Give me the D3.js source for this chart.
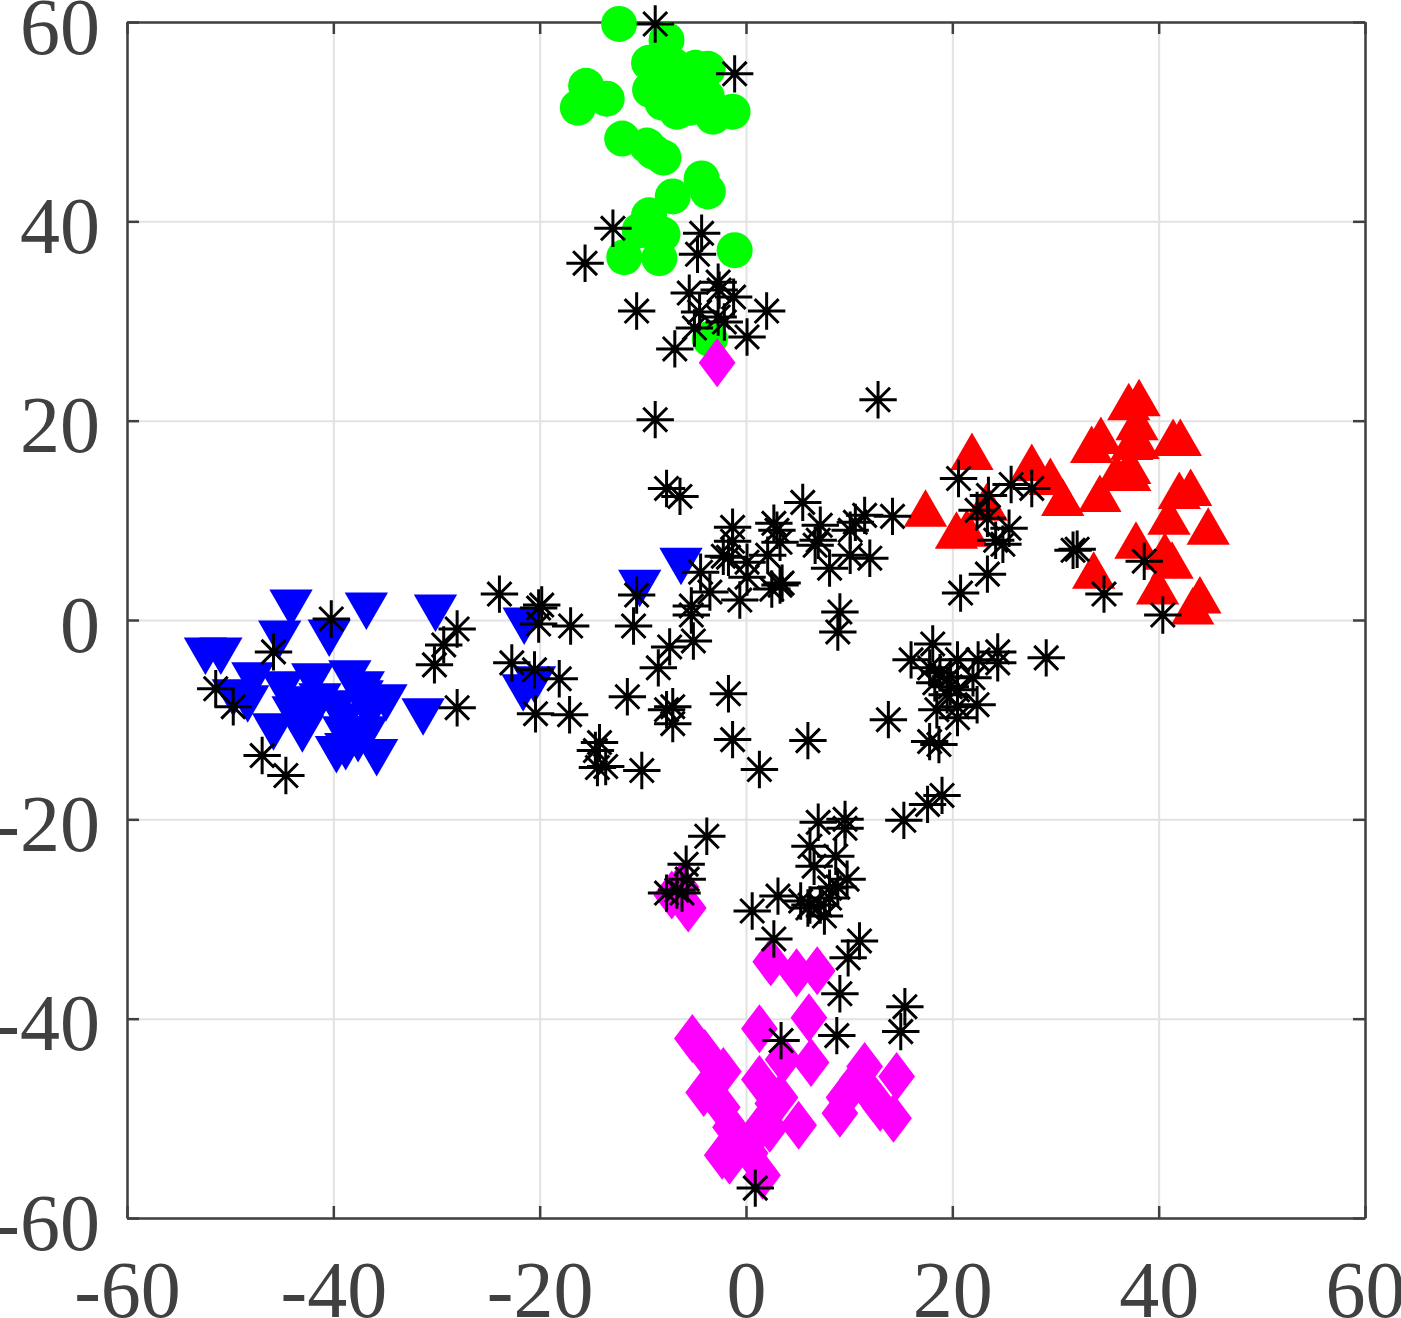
<!DOCTYPE html>
<html>
<head>
<meta charset="utf-8">
<script src="https://cdnjs.cloudflare.com/ajax/libs/d3/7.8.5/d3.min.js"></script>
<style>
  html, body { margin: 0; padding: 0; background: #fff; }
  svg { display: block; overflow: hidden; }
</style>
</head>
<body>
<svg id="chart" width="1401" height="1318"></svg>
<script>
const xTicks = [-60, -40, -20, 0, 20, 40, 60];
const yTicks = [-60, -40, -20, 0, 20, 40, 60];

// values
const redPoints = [
  [21.9,16.3],[17.4,10.6],[20.4,8.4],[21.4,8.6],[23.3,11.2],[27.7,15.2],[29.5,13.8],[30.7,11.7],
  [34.3,12.1],[34.4,17.9],[33.5,17],[37.1,21.3],[38.1,21.7],[37.9,19.3],[38,17.4],[37.4,17.3],
  [37.2,14.9],[37.2,14.2],[35.9,14.2],[41.4,17.7],[42.1,17.7],[42,12.4],[43.1,12.7],[41,9.8],
  [44.8,8.8],[37.8,7.4],[40.6,6.3],[41.3,5.4],[33.7,4.4],[39.9,2.8],[44,1.9],[43.3,0.8]
];
const greenPoints = [
  [-12.3,59.8],[-7.7,58.2],[-9.4,55.9],[-7.1,55.7],[-4.9,55.4],[-3.7,55.3],[-9.3,53.2],[-15.5,53.6],
  [-13.5,52.3],[-16.3,51.4],[-8.1,51.9],[-6.7,51],[-5.4,51.4],[-3.2,50.5],[-1.3,51],[-7,54],
  [-5.5,53.5],[-4.5,53],[-6.5,52.5],[-3.8,52.5],[-12,48.3],[-9.6,47.6],[-8,46.4],[-9,47],
  [-4.3,44.3],[-3.7,43],[-7.1,42.5],[-9.4,40.6],[-10.3,39.1],[-8.1,38.7],[-9.3,39.1],[-11.8,36.4],
  [-8.4,36.3],[-1.1,37.1],[-3.5,28.2]
];
const bluePoints = [
  [-44.1,1.8],[-45.2,-1.3],[-40.4,-1.2],[-36.8,1.5],[-30.1,1.3],[-52.4,-3],[-50.9,-3],[-47.8,-5.5],
  [-49.7,-7.2],[-48.3,-7.8],[-45.8,-10.6],[-44.9,-6.4],[-42,-5.6],[-43,-10.8],[-43.9,-8.9],[-41.3,-7.6],
  [-42.3,-9.4],[-38.4,-5.3],[-37.1,-6.4],[-37.2,-7.3],[-34.9,-7.7],[-36.5,-8.9],[-39,-9.6],[-31.3,-9.1],
  [-39.7,-12.9],[-38.8,-12.6],[-37.6,-11.8],[-35.8,-13.2],[-39,-10.9],[-36.8,-10.9],[-39.7,-8.3],[-43,-7.9],
  [-6.3,6],[-10.3,3.8],[-21.5,0],[-21.6,-6.7],[-20.5,-5.9]
];
const magentaPoints = [
  [-2.8,25.8],[-5.6,-28.9],[-6.3,-26.8],[-7.2,-27.6],[2.4,-34.3],[4.9,-35.4],[6.9,-35.2],[6.1,-39.9],
  [1.3,-41],[-5.2,-42],[-4,-43.5],[-2.2,-45.3],[-4.1,-47.4],[3.6,-44.1],[6.3,-44.4],[1.3,-46.1],
  [2.6,-48.5],[3.3,-47.9],[5.1,-50.7],[2.3,-51],[-2.3,-48.9],[-1.5,-50.9],[-2.3,-53.7],[-1.6,-54.2],
  [-0.6,-52.2],[1.6,-55.7],[0.4,-53.5],[1.4,-50.9],[11.5,-44.8],[14.6,-45.8],[10.8,-46.1],[9.5,-47.9],
  [9.1,-49.5],[12.3,-47.9],[14.3,-50],[13,-48.9]
];
const blackPoints = [
  [-8.8,59.8],[-1.1,54.8],[-12.9,39.3],[-15.6,35.8],[-4.3,38.8],[-4.7,36.7],[-2.7,33.9],[-5.5,32.8],
  [-2.6,33.1],[-1.2,32.4],[-4.5,30.9],[-10.6,31],[2,31],[-2.1,29.9],[-2.7,30.4],[-5,29.3],
  [0.1,28.4],[-6.9,27.2],[12.8,22.1],[-8.8,20.1],[-7.7,13.2],[-6.4,12.4],
  [-23.9,2.6],[-19.8,1.5],[-20.1,1.2],[-20.1,-0.4],[-17,-0.6],[-10.6,2.5],[-10.9,-0.6],[5.5,11.8],
  [-1.3,9.3],[-1.3,7.9],[2.7,9.7],[3,9],[3.3,7.8],[-2.2,6.4],[2.1,6.5],[0.1,5.8],[-1.7,6.3],[0.1,4.3],
  [6.7,7.5],[-4.4,4.8],[-3.5,2.8],[-0.6,2],[2.5,3.1],[3.5,3.7],[-5.3,1.4],[-5.3,0.5],[-5.1,-2.1],
  [-7.4,-2.7],[-8.5,-4.8],[-11.5,-7.7],[-1.7,-7.4],[-22.7,-4.3],[-20.5,-5],[-18.1,-5.9],[-20.4,-9.4],
  [-17.1,-9.5],[-7.1,-8.7],[-7.7,-9],[-7.1,-10.4],[-14.2,-12.3],[-14.6,-13.1],[-14.4,-14.8],[-13.6,-14.7],
  [-10.1,-15.1],[-1.3,-12],[1.3,-15],[6,-12.1],
  [9.1,0.8],[8.9,-1.2],[8.1,5.2],[12,6.2],[10.1,6.5],[7,8],[7.2,9.5],[10.6,9.8],[10.1,9],[11.5,10.5],
  [14.2,10.4],[3.3,3.5],
  [18.1,-2.4],[16,-4],[13.8,-10],[24.4,-3.2],[24.4,-4.3],[22.5,-4],[20.5,-4],[29.1,-3.8],[17.8,-4.8],
  [18.8,-5.3],[22,-5.8],[18.3,-6.3],[19.8,-5.7],[19.8,-6.7],[20.5,-7],[19.5,-7.5],[22.4,-8.5],[18.5,-9],
  [20.5,-9.8],[20.5,-8.7],[17.8,-12.2],[18.7,-12.5],[19,-17.6],[17.6,-18.5],[15.3,-20.1],
  [-3.8,-21.7],[-5.8,-24.5],[-5.7,-26],[-6.2,-27.4],[-7.7,-27.4],[-6.7,-27.1],[7,-20.3],[9.6,-20],
  [9.6,-20.9],[6.2,-22.7],[8.7,-23.7],[6.6,-24.7],[9.8,-26],[8.9,-26.8],[8.1,-26.9],[3.1,-27.7],
  [0.6,-29.2],[5.3,-28.2],[6.2,-28.6],[7.2,-28.6],[6,-28.9],[7.6,-29.7],[8.1,-27.9],[2.7,-32],[11,-32.2],
  [9.9,-33.9],[9.1,-37.5],[15.4,-38.8],[15,-41.3],[8.8,-41.7],[3.4,-42.2],[0.9,-57],
  [20.6,14.2],[25.7,13.6],[27.7,13.2],[23.5,12.5],[22.4,11],[23.4,10.2],[25.5,9.2],[24.2,8],[24.9,7.6],
  [23.4,4.6],[20.8,2.7],[31.7,7],[32.1,7.1],[38.6,5.9],[34.7,2.6],[40.4,0.5],
  [-40.2,0.1],[-45.8,-3.2],[-51.4,-6.9],[-49.7,-8.7],[-28,-0.9],[-29.3,-2.5],[-30.2,-4.5],[-28,-8.8],
  [-46.9,-13.6],[-44.6,-15.6]
];

const margin = { top: 22, right: 36, bottom: 100, left: 127 };
const innerWidth = 1401 - margin.left - margin.right;
const innerHeight = 1318 - margin.top - margin.bottom;

const xScale = d3.scaleLinear().domain([-60, 60]).range([0, innerWidth]);
const yScale = d3.scaleLinear().domain([-60, 60]).range([innerHeight, 0]);

const svg = d3.select('#chart');
const g = svg.append('g').attr('transform', `translate(${margin.left},${margin.top})`);

// Grid lines
g.append('g')
  .attr('transform', `translate(0,${innerHeight})`)
  .call(d3.axisBottom(xScale).tickValues(xTicks).tickSize(-innerHeight).tickFormat(''))
  .call(a => a.select('.domain').remove())
  .selectAll('line').attr('stroke', '#e2e2e2').attr('stroke-width', 2);
g.append('g')
  .call(d3.axisLeft(yScale).tickValues(yTicks).tickSize(-innerWidth).tickFormat(''))
  .call(a => a.select('.domain').remove())
  .selectAll('line').attr('stroke', '#e2e2e2').attr('stroke-width', 2);

// Axes box with inward ticks
const axisColor = '#404040';
const axisBottomG = g.append('g')
  .attr('transform', `translate(0,${innerHeight})`)
  .call(d3.axisBottom(xScale).tickValues(xTicks).tickSizeOuter(0).tickSizeInner(-12).tickPadding(42).tickFormat(d => String(d)));
const axisLeftG = g.append('g')
  .call(d3.axisLeft(yScale).tickValues(yTicks).tickSizeOuter(0).tickSizeInner(-12).tickPadding(27).tickFormat(d => String(d)));
const axisTopG = g.append('g')
  .call(d3.axisTop(xScale).tickValues(xTicks).tickSizeOuter(0).tickSizeInner(-12).tickFormat(''));
const axisRightG = g.append('g')
  .attr('transform', `translate(${innerWidth},0)`)
  .call(d3.axisRight(yScale).tickValues(yTicks).tickSizeOuter(0).tickSizeInner(-12).tickFormat(''));

[axisBottomG, axisLeftG, axisTopG, axisRightG].forEach(axis => {
  axis.selectAll('path, line').attr('stroke', axisColor).attr('stroke-width', 2.5);
  axis.selectAll('text')
    .attr('fill', axisColor)
    .style('font-family', '"Liberation Serif", serif')
    .style('font-size', '80px');
});
axisLeftG.selectAll('text').attr('dy', '0.39em');

// Custom markers, size is the squared half size
const diamondMark = {
  draw(ctx, size) {
    const r = Math.sqrt(size);
    ctx.moveTo(0, -r);
    ctx.lineTo(r * 0.75, 0);
    ctx.lineTo(0, r);
    ctx.lineTo(-r * 0.75, 0);
    ctx.closePath();
  }
};
const starMark = {
  draw(ctx, size) {
    const r = Math.sqrt(size);
    const d = r * 0.64;
    ctx.moveTo(-r, 0); ctx.lineTo(r, 0);
    ctx.moveTo(0, -r); ctx.lineTo(0, r);
    ctx.moveTo(-d, -d); ctx.lineTo(d, d);
    ctx.moveTo(-d, d); ctx.lineTo(d, -d);
  }
};

const triangleSize = 812;
const drawMarks = (points, type, size, color, rotate) => g.append('g').selectAll('path')
  .data(points)
  .enter().append('path')
  .attr('d', d3.symbol().type(type).size(size))
  .attr('transform', d => `translate(${xScale(d[0])},${yScale(d[1])})` + (rotate ? ' rotate(180)' : ''))
  .attr('fill', color);

drawMarks(redPoints, d3.symbolTriangle, triangleSize, '#ff0000', false);
drawMarks(greenPoints, d3.symbolCircle, Math.PI * 18 * 18, '#00ff00', false);
drawMarks(bluePoints, d3.symbolTriangle, triangleSize, '#0000ff', true);
drawMarks(magentaPoints, diamondMark, 24.5 * 24.5, '#ff00ff', false);
drawMarks(blackPoints, starMark, 18.7 * 18.7, 'none', false)
  .attr('stroke', '#000')
  .attr('stroke-width', 3);
</script>
</body>
</html>
